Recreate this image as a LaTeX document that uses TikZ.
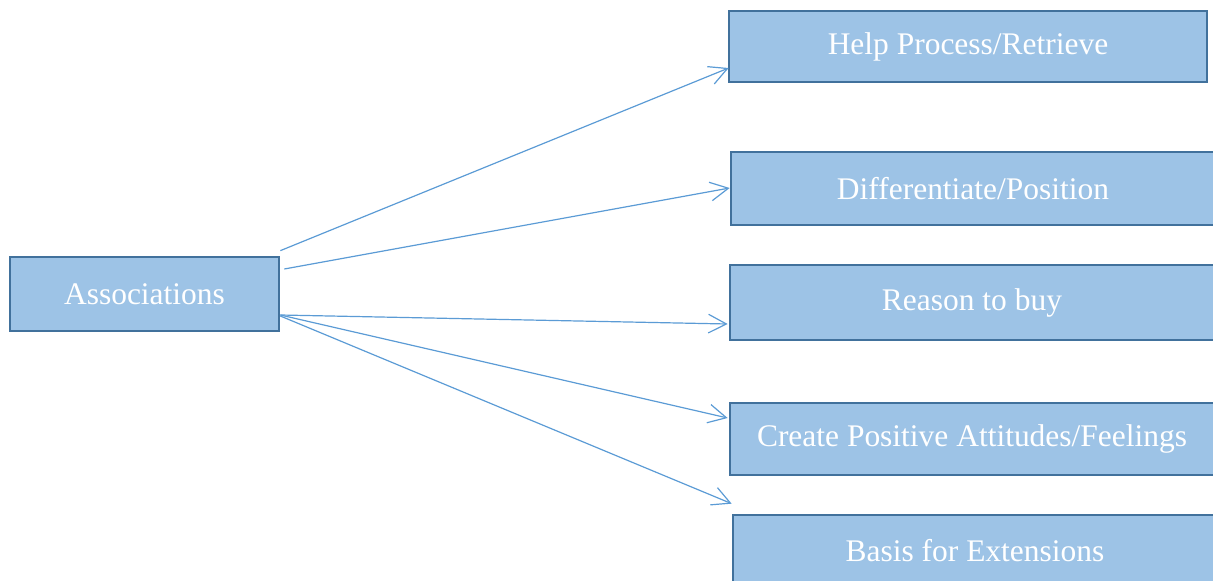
\documentclass[tikz,border=0pt]{standalone}
\usepackage{fontspec}
\setmainfont{Liberation Serif}
\usepackage{xcolor}
\usetikzlibrary{arrows.meta}

\definecolor{boxfill}{HTML}{9DC3E6}
\definecolor{boxline}{HTML}{41719C}
\definecolor{linkblue}{HTML}{5B9BD5}

\begin{document}
\begin{tikzpicture}[
  x=0.75pt, y=-0.75pt,
  box/.style={draw=boxline, line width=2pt, fill=boxfill, inner sep=0pt,
    text=white, font=\fontsize{23.6}{28}\selectfont},
  link/.style={draw=linkblue, line width=0.9pt,
    -{Straight Barb[length=13.5pt, width=14pt]}},
]
  \clip (0,0) rectangle (1213,581);
  \node[box, minimum width=201.75pt, minimum height=55.5pt]
    (assoc) at (144.5, 294) {Associations};
  \node[box, minimum width=358.5pt, minimum height=53.25pt]
    (help) at (968, 46.5) {Help Process/Retrieve};
  \node[box, minimum width=363pt, minimum height=54.75pt]
    (diff) at (973, 188.5) {Differentiate/Position};
  \node[box, minimum width=363pt, minimum height=56.25pt]
    (reason) at (972, 302.5) {Reason to buy};
  \node[box, minimum width=363pt, minimum height=54pt]
    (create) at (972, 439) {Create Positive Attitudes/Feelings};
  \node[box, minimum width=363pt, minimum height=54pt]
    (basis) at (975, 551) {Basis for Extensions};
  \draw[link] ([shift={(0,-5)}]assoc.north east)
    -- ([shift={(1,21.5)}]help.west);
  \draw[link] ([shift={(4,-25)}]assoc.east)
    -- ([shift={(0,-0.5)}]diff.west);
  \draw[link] ([shift={(0,21)}]assoc.east)
    -- ([shift={(-1,21.5)}]reason.west);
  \draw[link] ([shift={(0,21)}]assoc.east)
    -- ([shift={(-1,-21)}]create.west);
  \draw[link] ([shift={(0,22)}]assoc.east)
    -- ([shift={(0,-10)}]basis.north west);
\end{tikzpicture}
\end{document}
